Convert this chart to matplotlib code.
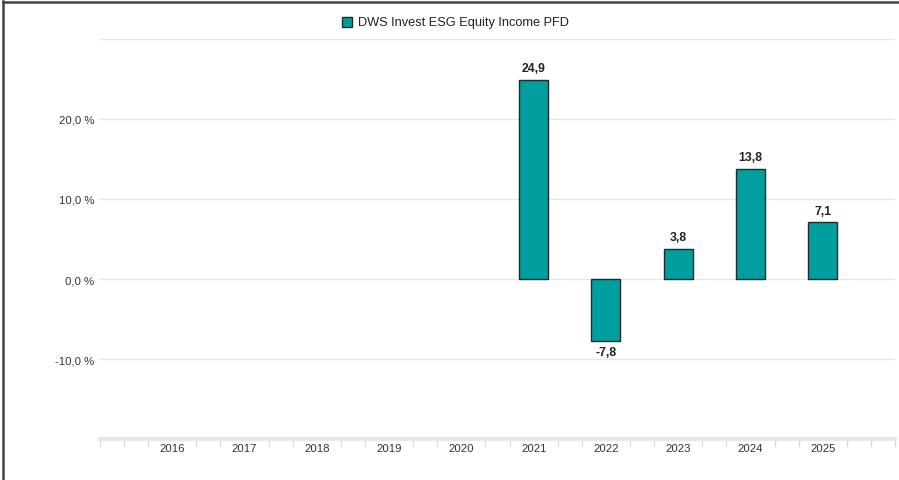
import matplotlib.pyplot as plt
from matplotlib.lines import Line2D
from matplotlib.patches import Rectangle

years = ['2016', '2017', '2018', '2019', '2020', '2021', '2022', '2023', '2024', '2025']
returns = [None, None, None, None, None, 24.9, -7.8, 3.8, 13.8, 7.1]
series_name = 'DWS Invest ESG Equity Income PFD'
y_ticks = [-10, 0, 10, 20]

TEAL = '#009e9e'
EDGE = '#1f2a2a'
GRID = '#e6e6e6'


def fmt(v):
    return f'{v:.1f}'.replace('.', ',')


def main():
    plt.rcParams['font.family'] = ['Liberation Sans', 'DejaVu Sans']
    W, H = 899, 481
    fig = plt.figure(figsize=(W / 100, H / 100), dpi=100)
    ax = fig.add_axes([100 / W, 1 - 440 / H, 795 / W, 400 / H])

    xs = [i for i, v in enumerate(returns) if v is not None]
    vals = [v for v in returns if v is not None]
    ax.bar(xs, vals, width=0.4, color=TEAL, edgecolor=EDGE, linewidth=1, zorder=3)

    for x, v in zip(xs, vals):
        if v >= 0:
            ax.annotate(fmt(v), (x, v), xytext=(0, 4), textcoords='offset points',
                        ha='center', va='bottom', fontsize=8.8, fontweight='bold', color='#222222')
        else:
            ax.annotate(fmt(v), (x, v), xytext=(0, -3), textcoords='offset points',
                        ha='center', va='top', fontsize=8.8, fontweight='bold', color='#222222')

    ax.set_xlim(-1, 10)
    ax.set_ylim(-20, 30)

    # gridlines
    for g in [-10, 0, 10, 20, 30]:
        ax.axhline(g, color=GRID, linewidth=1, zorder=1)

    ax.set_yticks(y_ticks)
    ax.set_yticklabels([fmt(t) + ' %' for t in y_ticks])
    ax.tick_params(axis='y', length=0, pad=4, labelsize=8.2, labelcolor='#333333')

    ax.set_xticks(range(len(years)))
    ax.set_xticklabels(years)
    ax.tick_params(axis='x', length=0, pad=3, labelsize=8.2, labelcolor='#333333')
    minor = [-1 + k / 3 for k in range(34) if k % 3 != 0 or k == 0 or k == 33]
    ax.set_xticks(minor, minor=True)
    ax.tick_params(axis='x', which='minor', length=6, width=1, color='#dddddd')

    for s in ['top', 'right', 'left']:
        ax.spines[s].set_visible(False)
    ax.spines['bottom'].set_color('#e8e8e8')
    ax.spines['bottom'].set_linewidth(3)

    # legend
    fig.add_artist(Rectangle((342 / W, 1 - 28 / H), 10 / W, 10 / H, transform=fig.transFigure,
                             facecolor=TEAL, edgecolor=EDGE, linewidth=1))
    fig.text(358 / W, 1 - 23 / H, series_name, fontsize=9.2, va='center', ha='left', color='#222222')

    # frame
    fig.add_artist(Line2D([3 / W, 3 / W], [0, 1 - 2 / H], color='#444444', linewidth=1.8))
    fig.add_artist(Line2D([3 / W, 1], [1 - 3 / H, 1 - 3 / H], color='#444444', linewidth=1.8))

    fig.savefig('out.png', dpi=100)


if __name__ == "__main__":
    main()
